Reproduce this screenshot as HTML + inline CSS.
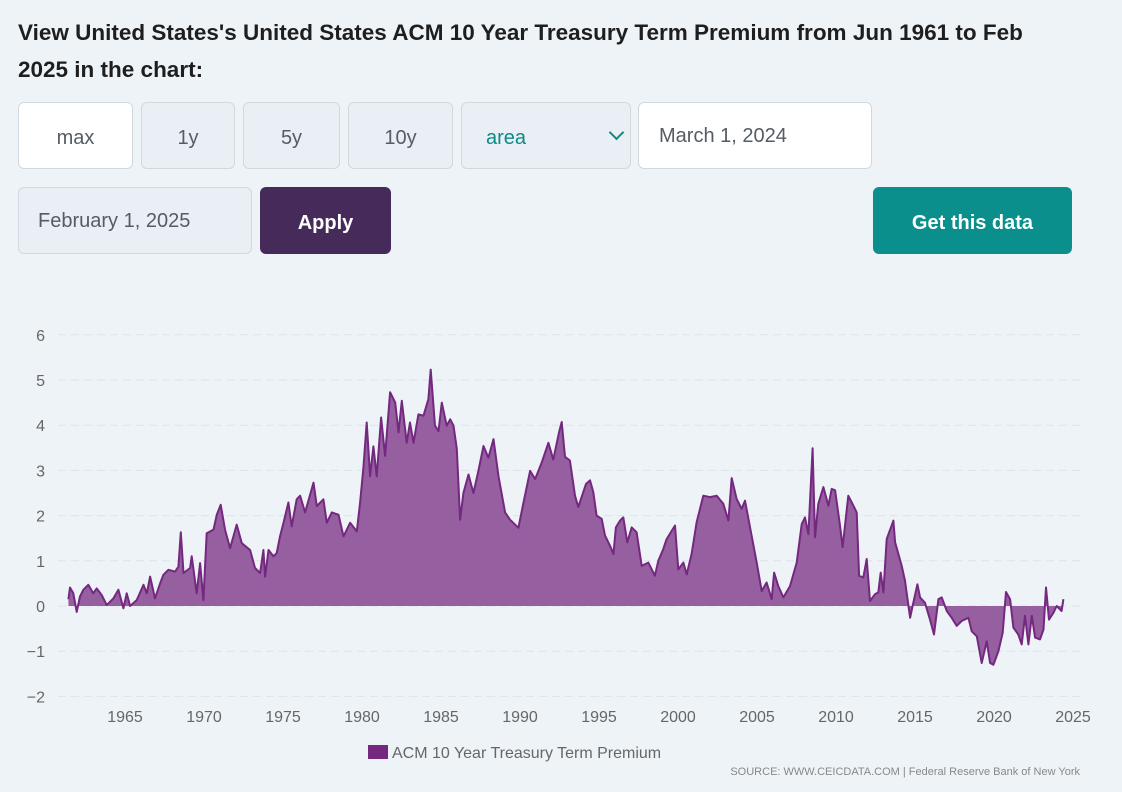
<!DOCTYPE html>
<html><head><meta charset="utf-8"><style>
body{margin:0;width:1122px;height:792px;background:#eef3f7;font-family:"Liberation Sans","DejaVu Sans",sans-serif;position:relative;overflow:hidden}
.t{position:absolute;left:18px;top:14px;font-size:22.5px;font-weight:bold;color:#1e1e1e;line-height:37px;width:1060px}
.b{position:absolute;box-sizing:border-box;border:1px solid #cfd9e0;border-radius:6px;display:flex;align-items:center;justify-content:center;font-size:20px;color:#555c66;background:#e9eff4;padding-top:6px}
.w{background:#fff}
</style></head><body>
<div class="t">View United States's United States ACM 10 Year Treasury Term Premium from Jun 1961 to Feb 2025 in the chart:</div>
<div class="b w" style="left:18px;top:102px;width:115px;height:67px">max</div>
<div class="b" style="left:141px;top:102px;width:94px;height:67px">1y</div>
<div class="b" style="left:243px;top:102px;width:97px;height:67px">5y</div>
<div class="b" style="left:348px;top:102px;width:105px;height:67px">10y</div>
<div class="b" style="left:461px;top:102px;width:170px;height:67px;justify-content:flex-start;padding-left:24px;color:#0e8a87">area<span style="position:absolute;right:8px;top:24px;width:9px;height:9px;border-right:2px solid #0e8a87;border-bottom:2px solid #0e8a87;transform:rotate(45deg)"></span></div>
<div class="b w" style="left:638px;top:102px;width:234px;height:67px;justify-content:flex-start;padding-left:20px;padding-top:2px">March 1, 2024</div>
<div class="b" style="left:18px;top:187px;width:234px;height:67px;justify-content:flex-start;padding-left:19px;padding-top:2px">February 1, 2025</div>
<div class="b" style="left:260px;top:187px;width:131px;height:67px;background:#452a5a;border-color:#452a5a;color:#fff;font-weight:bold">Apply</div>
<div class="b" style="left:873px;top:187px;width:199px;height:67px;background:#0a8f8c;border-color:#0a8f8c;color:#fff;font-weight:bold">Get this data</div>
<svg id="c" width="1122" height="792" style="position:absolute;left:0;top:0"></svg>
<script>
const years=[1961.42,1961.52,1961.73,1961.94,1962.15,1962.37,1962.68,1962.99,1963.21,1963.53,1963.84,1964.27,1964.58,1964.90,1965.11,1965.32,1965.74,1966.17,1966.38,1966.59,1966.90,1967.22,1967.43,1967.75,1968.17,1968.38,1968.53,1968.70,1969.12,1969.22,1969.54,1969.75,1969.96,1970.17,1970.60,1970.81,1971.06,1971.33,1971.65,1972.07,1972.39,1972.92,1973.23,1973.55,1973.76,1973.87,1974.08,1974.39,1974.60,1974.81,1975.03,1975.34,1975.55,1975.87,1976.08,1976.40,1976.93,1977.14,1977.56,1977.77,1978.09,1978.51,1978.83,1979.25,1979.67,1979.88,1980.09,1980.30,1980.51,1980.72,1980.93,1981.21,1981.46,1981.78,1982.10,1982.31,1982.52,1982.83,1983.04,1983.26,1983.57,1983.89,1984.20,1984.35,1984.62,1984.84,1985.05,1985.36,1985.58,1985.79,1986.00,1986.21,1986.42,1986.74,1987.05,1987.37,1987.69,1988.00,1988.32,1988.64,1989.06,1989.37,1989.90,1990.22,1990.64,1990.96,1991.38,1991.80,1992.11,1992.47,1992.64,1992.85,1993.16,1993.48,1993.69,1993.90,1994.18,1994.43,1994.64,1994.85,1995.17,1995.38,1995.70,1995.91,1996.07,1996.33,1996.54,1996.79,1997.07,1997.38,1997.70,1998.12,1998.54,1998.75,1999.07,1999.28,1999.81,2000.02,2000.34,2000.55,2000.86,2001.18,2001.60,2002.03,2002.45,2002.87,2003.19,2003.40,2003.71,2004.03,2004.24,2004.66,2004.98,2005.30,2005.61,2005.93,2006.08,2006.35,2006.67,2007.09,2007.51,2007.83,2008.04,2008.25,2008.52,2008.67,2008.88,2009.20,2009.52,2009.73,2009.94,2010.25,2010.42,2010.78,2011.10,2011.31,2011.46,2011.73,2011.94,2012.15,2012.47,2012.68,2012.83,2013.00,2013.21,2013.63,2013.74,2014.16,2014.37,2014.69,2014.85,2015.15,2015.32,2015.63,2015.95,2016.20,2016.48,2016.69,2017.01,2017.32,2017.64,2017.96,2018.38,2018.59,2018.91,2019.22,2019.54,2019.75,2019.96,2020.28,2020.55,2020.76,2021.02,2021.23,2021.54,2021.75,2021.96,2022.18,2022.39,2022.60,2022.91,2023.13,2023.29,2023.48,2023.76,2023.97,2024.28,2024.39];
const values=[0.15,0.41,0.28,-0.13,0.21,0.36,0.47,0.28,0.39,0.24,0.02,0.17,0.36,-0.05,0.28,0.00,0.13,0.47,0.28,0.65,0.17,0.50,0.69,0.80,0.76,0.87,1.63,0.73,0.84,1.10,0.28,0.95,0.13,1.61,1.69,2.02,2.24,1.69,1.28,1.80,1.39,1.24,0.84,0.73,1.24,0.65,1.24,1.10,1.17,1.54,1.84,2.29,1.76,2.36,2.44,2.07,2.73,2.21,2.36,1.84,2.07,2.02,1.54,1.84,1.65,2.29,3.06,4.06,2.87,3.53,2.87,4.17,3.32,4.73,4.50,3.84,4.54,3.61,4.06,3.61,4.24,4.21,4.58,5.23,3.99,3.87,4.50,3.99,4.13,3.99,3.48,1.91,2.50,2.91,2.50,2.99,3.54,3.28,3.69,2.87,2.07,1.91,1.73,2.29,2.99,2.81,3.18,3.61,3.24,3.84,4.07,3.30,3.22,2.44,2.19,2.41,2.70,2.78,2.52,2.00,1.93,1.56,1.33,1.15,1.74,1.89,1.96,1.41,1.74,1.63,0.89,0.96,0.67,1.00,1.26,1.48,1.78,0.81,0.96,0.70,1.15,1.85,2.44,2.41,2.44,2.26,1.89,2.83,2.37,2.15,2.33,1.56,0.96,0.33,0.52,0.15,0.74,0.44,0.19,0.44,0.96,1.81,1.96,1.59,3.49,1.52,2.26,2.63,2.22,2.59,2.56,1.78,1.30,2.44,2.22,2.07,0.67,0.63,1.04,0.11,0.26,0.30,0.74,0.30,1.48,1.89,1.41,0.89,0.56,-0.26,0.00,0.48,0.19,0.07,-0.30,-0.63,0.15,0.19,-0.11,-0.26,-0.44,-0.33,-0.26,-0.56,-0.67,-1.26,-0.78,-1.26,-1.30,-1.00,-0.59,0.31,0.15,-0.48,-0.63,-0.85,-0.22,-0.85,-0.22,-0.70,-0.74,-0.52,0.41,-0.30,-0.15,0.00,-0.11,0.15];
const yTicks=[-2,-1,0,1,2,3,4,5,6];
const xTicks=[1965,1970,1975,1980,1985,1990,1995,2000,2005,2010,2015,2020,2025];
const X=y=>125+(y-1965)*15.8, Y=v=>606-v*45.2;
const svg=document.getElementById('c'),NS='http://www.w3.org/2000/svg';
function mk(t,a,txt){const e=document.createElementNS(NS,t);for(const k in a)e.setAttribute(k,a[k]);if(txt!=null)e.textContent=txt;svg.appendChild(e);return e;}
yTicks.forEach(v=>{
 const g=mk('line',{x1:58,x2:1082,y1:Y(v),y2:Y(v),stroke:'#dde3e8','stroke-dasharray':'8,5'});
 
 
 const t=mk('text',{x:45,y:Y(v)+6,'text-anchor':'end','font-size':16,fill:'#666'},String(v).replace('-','−'));
 
 
});
xTicks.forEach(yr=>{
 const t=mk('text',{x:X(yr),y:722,'text-anchor':'middle','font-size':16,fill:'#666'},yr);
 
 
});
let line=years.map((y,i)=>(i?'L':'M')+X(y).toFixed(1)+','+Y(values[i]).toFixed(1)).join('');
const area=mk('path',{d:line+'L'+X(years[years.length-1]).toFixed(1)+','+Y(0)+'L'+X(years[0]).toFixed(1)+','+Y(0)+'Z',fill:'#955fa0'});


const ln=mk('path',{d:line,fill:'none',stroke:'#74287f','stroke-width':2,'stroke-linejoin':'round'});


const lg=mk('rect',{x:368,y:745,width:20,height:14,fill:'#74287f'});


const lt=mk('text',{x:392,y:758,'font-size':16,fill:'#666'},'ACM 10 Year Treasury Term Premium');


const st=mk('text',{x:1080,y:775,'text-anchor':'end','font-size':11,fill:'#888'},'SOURCE: WWW.CEICDATA.COM | Federal Reserve Bank of New York');


</script>
</body></html>
